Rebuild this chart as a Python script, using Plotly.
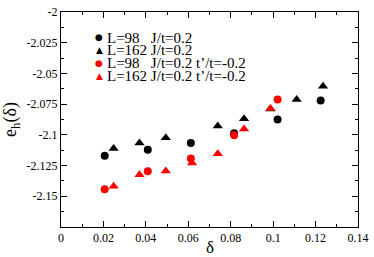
import plotly.graph_objects as go

# Data
x_b98 = [0.0206, 0.0409, 0.0612, 0.0816, 0.1021, 0.1224]
y_b98 = [-2.1170, -2.1121, -2.1066, -2.0987, -2.0874, -2.0720]

x_b162 = [0.0248, 0.0370, 0.0494, 0.0739, 0.0863, 0.0987, 0.1111, 0.1235]
y_b162 = [-2.1111, -2.1066, -2.1024, -2.0927, -2.0869, -2.0790, -2.0712, -2.0604]

x_r98 = [0.0206, 0.0409, 0.0612, 0.0816, 0.1021]
y_r98 = [-2.1442, -2.1297, -2.1192, -2.1003, -2.0712]

x_r162 = [0.0248, 0.0370, 0.0494, 0.0618, 0.0739, 0.0863, 0.0987]
y_r162 = [-2.1418, -2.1324, -2.1295, -2.1229, -2.1153, -2.0953, -2.0785]

labels = ["L=98\u00a0\u00a0\u00a0J/t=0.2",
          "L=162 J/t=0.2",
          "L=98\u00a0\u00a0\u00a0J/t=0.2 t\u2019/t=-0.2",
          "L=162 J/t=0.2 t\u2019/t=-0.2"]

xtick_vals = [0, 0.02, 0.04, 0.06, 0.08, 0.1, 0.12, 0.14]
xtick_text = ["0", "0.02", "0.04", "0.06", "0.08", "0.1", "0.12", "0.14"]
ytick_vals = [-2.15, -2.125, -2.1, -2.075, -2.05, -2.025, -2.0]
ytick_text = ["-2.15", "-2.125", "-2.1", "-2.075", "-2.05", "-2.025", "-2"]

FONT = "Liberation Serif"

series = [
    (x_b98, y_b98, "circle", "black"),
    (x_b162, y_b162, "triangle-up", "black"),
    (x_r98, y_r98, "circle", "red"),
    (x_r162, y_r162, "triangle-up", "red"),
]

fig = go.Figure()
for (xs, ys, sym, col), lab in zip(series, labels):
    fig.add_trace(go.Scatter(
        x=xs, y=ys, mode="markers", name=lab, showlegend=False,
        marker=dict(symbol=sym, color=col, size=8 if sym == "circle" else 9,
                    line=dict(width=0)),
    ))

# legend drawn as text annotations
leg_y = [31, 44, 57.5, 71]
glyphs = ["\u25cf", "\u25b2", "\u25cf", "\u25b2"]
cols = ["black", "black", "red", "red"]
plot_top, plot_h = 5, 222
for gy, g, c, lab in zip(leg_y, glyphs, cols, labels):
    py = 1 - (gy - plot_top) / plot_h
    fig.add_annotation(xref="paper", yref="paper", x=(100 - 61) / 301, y=py,
                       text=g, showarrow=False, xanchor="center", yanchor="middle",
                       borderpad=0,
                       font=dict(family="DejaVu Sans", size=9, color=c))
    fig.add_annotation(xref="paper", yref="paper", x=(107 - 61) / 301, y=py,
                       text=lab, showarrow=False, xanchor="left", yanchor="middle",
                       height=13, valign="middle", borderpad=0,
                       font=dict(family=FONT, size=15, color="black"))

axis_common = dict(showgrid=False, zeroline=False, showline=True, linecolor="black",
                   linewidth=1, mirror="ticks", ticks="inside", ticklen=6,
                   tickcolor="black", ticklabeloverflow="allow",
                   tickfont=dict(family=FONT, size=12, color="black"))

fig.update_xaxes(range=[0, 0.14], tickvals=xtick_vals, ticktext=xtick_text,
                 minor=dict(ticks="inside", ticklen=3, dtick=0.01, tickcolor="black"),
                 **axis_common)
fig.update_yaxes(range=[-2.175, -2.0], tickvals=ytick_vals, ticktext=ytick_text,
                 minor=dict(ticks="inside", ticklen=3, dtick=0.0125, tickcolor="black"),
                 title=dict(text="e<sub>h</sub>(\u03b4)",
                            font=dict(family=FONT, size=18, color="black"), standoff=5),
                 **axis_common)

# x axis title as annotation below the tick labels
fig.add_annotation(xref="paper", yref="paper", x=0.5, y=-(248.5 - 227) / 222,
                   text="\u03b4", showarrow=False, xanchor="center", yanchor="middle",
                   borderpad=0, font=dict(family=FONT, size=17, color="black"))

fig.update_layout(width=374, height=257, margin=dict(l=61, r=12, t=5, b=30),
                  plot_bgcolor="white", paper_bgcolor="white", showlegend=False)

fig.write_html("out.html", config={"displayModeBar": False},
               post_script="document.body.style.margin='0';document.body.style.overflow='hidden';")
